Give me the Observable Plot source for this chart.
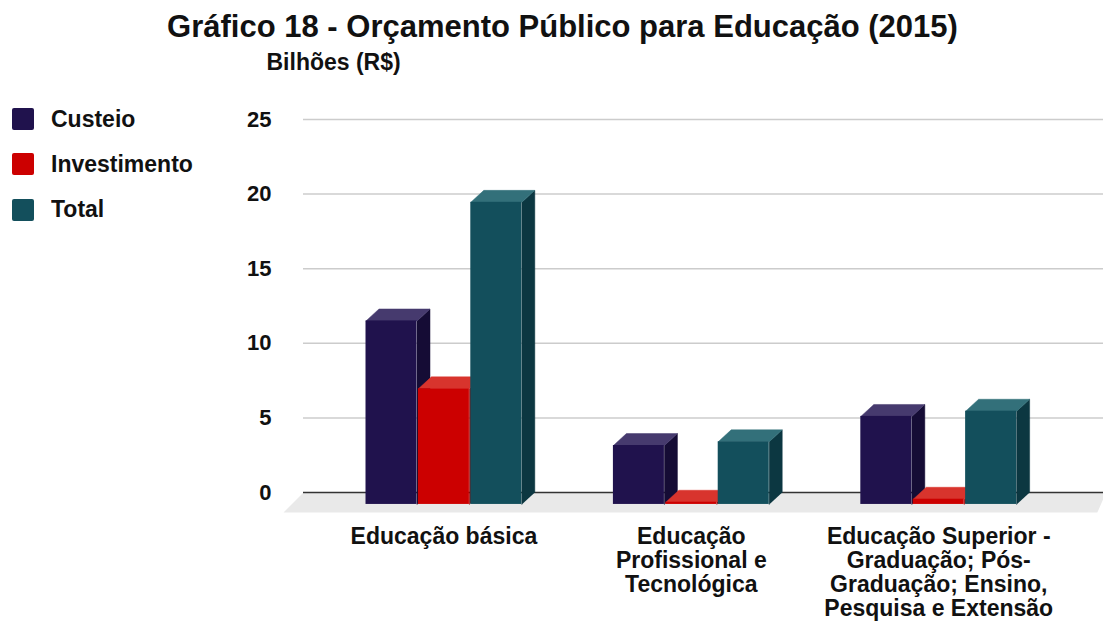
<!DOCTYPE html>
<html><head><meta charset="utf-8">
<script src="https://cdn.jsdelivr.net/npm/d3@7"></script>
<script src="https://cdn.jsdelivr.net/npm/@observablehq/plot@0.6"></script>
<style>
body{margin:0;background:#fff;font-family:"Liberation Sans",Arial,sans-serif;}
#wrap{position:relative;width:1103px;height:622px;overflow:hidden;}
#title{height:39px;padding-top:11px;padding-left:22px;font-size:31px;line-height:31px;font-weight:bold;text-align:center;color:#111;white-space:nowrap;}
#legend{position:absolute;left:12px;top:97px;}
.lg-swatch{height:44.3px;}
.lg-swatch > svg{margin-right:17px !important;}
.lg-swatch > svg rect{rx:2px;}
.lg-swatch-label{color:#111;}
</style></head><body>
<div id="wrap">
<div id="title">Gráfico 18 - Orçamento Público para Educação (2015)</div>
<div id="chart"></div>
<div id="legend"></div>
</div>
<script>
// ---- data ----
const categories = [
  "Educação básica",
  "Educação\nProfissional e\nTecnológica",
  "Educação Superior -\nGraduação; Pós-\nGraduação; Ensino,\nPesquisa e Extensão"
];
const series = ["Custeio", "Investimento", "Total"];
const custeio = [12.3, 3.95, 5.9];
const investimento = [7.75, 0.15, 0.35];
const total = [20.25, 4.2, 6.25];
const yTicks = [0, 5, 10, 15, 20, 25];
const yLabel = "Bilhões (R$)";

// ---- styles ----
const frontColors = ["#20124d", "#cc0000", "#134f5c"];
const topColors = ["#463a6e", "#d8342d", "#33707a"];
const sideColors = ["#150c35", "#9a0000", "#0c3741"];

// ---- geometry (in scale units) ----
const X0 = -0.5675, X1 = 2.666;          // x domain (group index units)
const W = 51 / 247.4, GAP = 1.4 / 247.4;  // bar width and gap
const DX = 13 / 247.4, DY = 0.8;          // 3D depth offsets
const FDX = 20 / 247.4, FDY = 1.34;       // floor depth

const values = [custeio, investimento, total];
const fronts = [], tops = [], sides = [];
values.forEach((vals, j) => vals.forEach((v, i) => {
  const x1 = i - (3 * W + 2 * GAP) / 2 + j * (W + GAP), x2 = x1 + W;
  const id = j + "-" + i;
  fronts.push({series: series[j], j, x1, x2, y1: -DY, y2: v - DY});
  tops.push({id, j, x: x1, y: v - DY}, {id, j, x: x1 + DX, y: v}, {id, j, x: x2 + DX, y: v}, {id, j, x: x2, y: v - DY});
  sides.push({id, j, x: x2, y: -DY}, {id, j, x: x2, y: v - DY}, {id, j, x: x2 + DX, y: v}, {id, j, x: x2 + DX, y: 0});
}));
const floor = [
  {x: X0, y: 0}, {x: X1, y: 0}, {x: X1, y: -0.4}, {x: X1 - 0.025, y: -FDY}, {x: X0 - FDX, y: -FDY}
];

const barMarks = [0, 1, 2].flatMap(j => [
  Plot.line(sides.filter(d => d.j === j), {x: "x", y: "y", z: "id", fill: sideColors[j], stroke: sideColors[j], strokeWidth: 0.5, curve: "linear"}),
  Plot.line(tops.filter(d => d.j === j), {x: "x", y: "y", z: "id", fill: topColors[j], stroke: topColors[j], strokeWidth: 0.5, curve: "linear"}),
  Plot.rect(fronts.filter(d => d.j === j), {x1: "x1", x2: "x2", y1: "y1", y2: "y2", fill: "series"})
]);

const chart = Plot.plot({
  width: 1103,
  height: 572,
  marginTop: 69,
  marginBottom: 110,
  marginLeft: 303,
  marginRight: 0,
  style: {fontFamily: "'Liberation Sans', Arial, sans-serif", background: "transparent", overflow: "visible"},
  x: {domain: [X0, X1], axis: null},
  y: {domain: [0, 25], range: [442, 69], axis: null},
  color: {domain: series, range: frontColors},
  marks: [
    Plot.line(floor, {x: "x", y: "y", fill: "#e9e9e9", stroke: "none", curve: "linear"}),
    Plot.ruleY(yTicks.filter(d => d > 0), {stroke: "#cccccc", strokeWidth: 1.5}),
    Plot.ruleY([0], {stroke: "#333333", strokeWidth: 1.5}),
    ...barMarks,
    Plot.axisY({ticks: yTicks, tickSize: 0, tickPadding: 32, fontSize: 22, fontWeight: "bold", fill: "#111", label: null}),
    Plot.axisX({ticks: [0, 1, 2], tickFormat: i => categories[i], tickSize: 0, tickPadding: 14, fontSize: 23, fontWeight: "bold", lineHeight: 1.05, fill: "#111", label: null}),
    Plot.text([yLabel], {frameAnchor: "top-left", dx: -37, dy: -57, textAnchor: "start", lineAnchor: "middle", fontSize: 23, fontWeight: "bold", fill: "#111"})
  ]
});
document.getElementById("chart").append(chart);

const legend = chart.legend("color", {
  legend: "swatches", columns: 1, swatchSize: 22, className: "lg",
  style: {fontSize: "23px", fontWeight: "bold", fontFamily: "'Liberation Sans', Arial, sans-serif"}
});
document.getElementById("legend").append(legend);
</script>
</body></html>
